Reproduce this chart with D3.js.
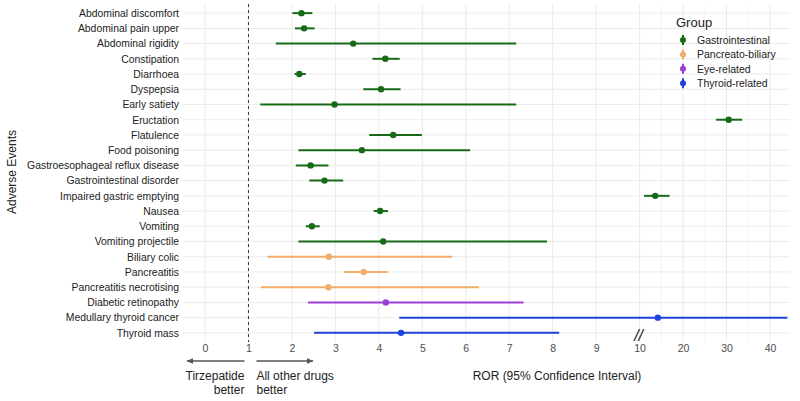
<!DOCTYPE html>
<html>
<head>
<meta charset="utf-8">
<script src="https://cdn.jsdelivr.net/npm/d3@7"></script>
<style>
  body { margin: 0; background: #fff; }
  text { font-family: "Liberation Sans", Arial, sans-serif; }
</style>
</head>
<body>
<svg id="chart" width="800" height="401"></svg>
<script>
const events = [
  "Abdominal discomfort", "Abdominal pain upper", "Abdominal rigidity", "Constipation",
  "Diarrhoea", "Dyspepsia", "Early satiety", "Eructation", "Flatulence", "Food poisoning",
  "Gastroesophageal reflux disease", "Gastrointestinal disorder", "Impaired gastric emptying",
  "Nausea", "Vomiting", "Vomiting projectile", "Biliary colic", "Pancreatitis",
  "Pancreatitis necrotising", "Diabetic retinopathy", "Medullary thyroid cancer", "Thyroid mass"
];
const groups = [
  "Gastrointestinal", "Gastrointestinal", "Gastrointestinal", "Gastrointestinal",
  "Gastrointestinal", "Gastrointestinal", "Gastrointestinal", "Gastrointestinal",
  "Gastrointestinal", "Gastrointestinal", "Gastrointestinal", "Gastrointestinal",
  "Gastrointestinal", "Gastrointestinal", "Gastrointestinal", "Gastrointestinal",
  "Pancreato-biliary", "Pancreato-biliary", "Pancreato-biliary", "Eye-related",
  "Thyroid-related", "Thyroid-related"
];
const ror   = [2.22, 2.28, 3.41, 4.15, 2.17, 4.05, 2.98, 30.5, 4.33, 3.61, 2.43, 2.75, 13.6, 4.03, 2.46, 4.10, 2.85, 3.65, 2.84, 4.16, 14.2, 4.51];
const lower = [2.01, 2.07, 1.63, 3.85, 2.06, 3.64, 1.27, 27.6, 3.78, 2.15, 2.09, 2.40, 11.0, 3.88, 2.32, 2.15, 1.44, 3.20, 1.29, 2.37, 4.47, 2.51];
const upper = [2.47, 2.52, 7.16, 4.48, 2.32, 4.50, 7.16, 33.6, 4.99, 6.10, 2.84, 3.18, 16.9, 4.21, 2.64, 7.87, 5.69, 4.20, 6.30, 7.33, 44.0, 8.15];

const groupNames = ["Gastrointestinal", "Pancreato-biliary", "Eye-related", "Thyroid-related"];
const groupColors = ["#176b17", "#f2ad6a", "#9b3fd4", "#1f42dc"];
const tickValues = [0, 1, 2, 3, 4, 5, 6, 7, 8, 9, 10, 20, 30, 40];
const minorBreaks = [15, 25, 35];

const svg = d3.select("#chart");
const panel = { left: 183, right: 790, top: 4, bottom: 342 };

// broken axis: 0-10 linear, then each 10 units takes one step
const x = d3.scaleLinear().domain([0, 10, 40]).range([205, 639.6, 770]);
const y = d3.scalePoint().domain(events).range([panel.top, panel.bottom]).padding(0.6);
const color = d3.scaleOrdinal().domain(groupNames).range(groupColors);

const rows = events.map((e, i) => ({
  event: e, group: groups[i], ror: ror[i], lo: lower[i], hi: upper[i]
}));

const grid = svg.append("g");
grid.selectAll(".minor")
  .data(minorBreaks)
  .join("line")
  .attr("x1", d => x(d)).attr("x2", d => x(d))
  .attr("y1", panel.top).attr("y2", panel.bottom)
  .attr("stroke", "#f0f0f0").attr("stroke-width", 0.6);
grid.selectAll(".vmajor")
  .data(tickValues)
  .join("line")
  .attr("x1", d => x(d)).attr("x2", d => x(d))
  .attr("y1", panel.top).attr("y2", panel.bottom)
  .attr("stroke", "#ebebeb").attr("stroke-width", 1);
grid.selectAll(".hmajor")
  .data(events)
  .join("line")
  .attr("x1", panel.left).attr("x2", panel.right)
  .attr("y1", d => y(d)).attr("y2", d => y(d))
  .attr("stroke", "#ebebeb").attr("stroke-width", 1);

// reference line at ROR = 1
svg.append("line")
  .attr("x1", x(1)).attr("x2", x(1))
  .attr("y1", panel.top).attr("y2", panel.bottom)
  .attr("stroke", "#333").attr("stroke-width", 1)
  .attr("stroke-dasharray", "3,3");

// y axis labels
const yAxis = svg.append("g")
  .attr("transform", `translate(${panel.left - 2},0)`)
  .call(d3.axisLeft(y).tickSize(0).tickPadding(2));
yAxis.select(".domain").remove();
yAxis.selectAll("text").attr("fill", "#222").attr("font-size", "10.4px");

// x axis labels
const xAxis = svg.append("g")
  .attr("transform", `translate(0,${panel.bottom})`)
  .call(d3.axisBottom(x).tickValues(tickValues).tickSize(0).tickPadding(3).tickFormat(d3.format("d")));
xAxis.select(".domain").remove();
xAxis.selectAll("text").attr("fill", "#4d4d4d").attr("font-size", "10.5px");

// intervals and points
const marks = svg.append("g");
marks.selectAll(".ci")
  .data(rows)
  .join("line")
  .attr("x1", d => x(d.lo)).attr("x2", d => x(d.hi))
  .attr("y1", d => y(d.event)).attr("y2", d => y(d.event))
  .attr("stroke", d => color(d.group)).attr("stroke-width", 2);
marks.selectAll(".pt")
  .data(rows)
  .join("circle")
  .attr("cx", d => x(d.ror)).attr("cy", d => y(d.event))
  .attr("r", 3.2)
  .attr("fill", d => color(d.group));

// axis break mark
svg.append("text")
  .attr("x", x(10) - 1).attr("y", 341)
  .attr("text-anchor", "middle")
  .attr("font-size", "16px").attr("font-style", "italic")
  .attr("fill", "#222")
  .text("//");

// direction arrows
const defs = svg.append("defs");
defs.append("marker")
  .attr("id", "head")
  .attr("viewBox", "0 -5 10 10")
  .attr("refX", 9).attr("refY", 0)
  .attr("markerWidth", 5).attr("markerHeight", 5)
  .attr("orient", "auto")
  .append("path")
  .attr("d", "M0,-4L10,0L0,4Z")
  .attr("fill", "#555");

const arrowY = 361;
svg.append("line")
  .attr("x1", x(1) - 4).attr("x2", x(0) - 18)
  .attr("y1", arrowY).attr("y2", arrowY)
  .attr("stroke", "#555").attr("stroke-width", 1.4)
  .attr("marker-end", "url(#head)");
svg.append("line")
  .attr("x1", x(1) + 8).attr("x2", x(2) + 21)
  .attr("y1", arrowY).attr("y2", arrowY)
  .attr("stroke", "#555").attr("stroke-width", 1.4)
  .attr("marker-end", "url(#head)");

const note = svg.append("g").attr("font-size", "12px").attr("fill", "#222");
note.append("text").attr("x", x(1) - 4).attr("y", 380).attr("text-anchor", "end").text("Tirzepatide");
note.append("text").attr("x", x(1) - 4).attr("y", 394).attr("text-anchor", "end").text("better");
note.append("text").attr("x", x(1) + 8).attr("y", 380).text("All other drugs");
note.append("text").attr("x", x(1) + 8).attr("y", 394).text("better");

svg.append("text")
  .attr("x", 557).attr("y", 380)
  .attr("text-anchor", "middle")
  .attr("font-size", "12px").attr("fill", "#222")
  .text("ROR (95% Confidence Interval)");

svg.append("text")
  .attr("transform", "translate(16,172) rotate(-90)")
  .attr("text-anchor", "middle")
  .attr("font-size", "12px").attr("fill", "#222")
  .text("Adverse Events");

// legend
const legend = svg.append("g").attr("transform", "translate(676,0)");
legend.append("text")
  .attr("x", 0).attr("y", 27)
  .attr("font-size", "13px").attr("fill", "#222")
  .text("Group");
const item = legend.selectAll(".item")
  .data(groupNames)
  .join("g")
  .attr("transform", (d, i) => `translate(0,${40 + i * 14.4})`);
item.append("line")
  .attr("x1", 7).attr("x2", 7).attr("y1", -5).attr("y2", 5)
  .attr("stroke", d => color(d)).attr("stroke-width", 2);
item.append("circle")
  .attr("cx", 7).attr("cy", 0).attr("r", 3)
  .attr("fill", d => color(d));
item.append("text")
  .attr("x", 21).attr("y", 4)
  .attr("font-size", "10.5px").attr("fill", "#222")
  .text(d => d);
</script>
</body>
</html>
